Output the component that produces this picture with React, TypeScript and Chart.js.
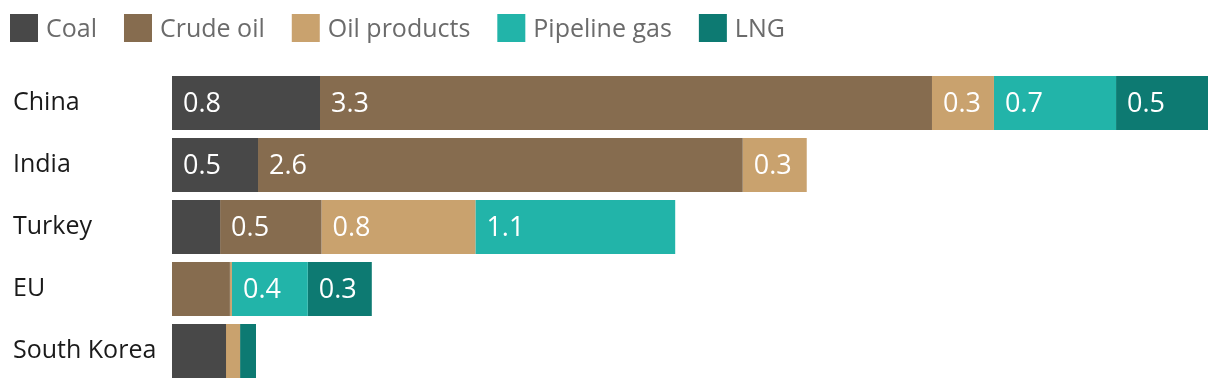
import React, { useEffect, useRef } from "react";
import { Chart, registerables } from "chart.js";

Chart.register(...registerables);

const FONT = "'Open Sans', 'Noto Sans', sans-serif";

const categories = ["China", "India", "Turkey", "EU", "South Korea"];
const seriesNames = ["Coal", "Crude oil", "Oil products", "Pipeline gas", "LNG"];
const seriesColors = ["#484848", "#866c4f", "#c9a26e", "#22b4a9", "#0d7a72"];

const coal = [0.8, 0.465, 0.26, 0, 0.292];
const crudeOil = [3.308, 2.62, 0.548, 0.313, 0];
const oilProducts = [0.335, 0.346, 0.832, 0.011, 0.076];
const pipelineGas = [0.66, 0, 1.08, 0.41, 0];
const lng = [0.5, 0, 0, 0.346, 0.086];

const seriesValues = [coal, crudeOil, oilProducts, pipelineGas, lng];
const X_MAX = 5.6;
const LABEL_MIN = 0.33;

const labelPlugin = {
  id: "segLabels",
  afterDatasetsDraw(chart: any) {
    const ctx = chart.ctx;
    ctx.save();
    ctx.font = `27px ${FONT}`;
    ctx.fillStyle = "#ffffff";
    ctx.textAlign = "left";
    ctx.textBaseline = "middle";
    chart.data.datasets.forEach((ds: any, di: number) => {
      const meta = chart.getDatasetMeta(di);
      meta.data.forEach((el: any, i: number) => {
        const v = ds.data[i];
        if (!(v >= LABEL_MIN)) return;
        const p = el.getProps(["x", "y", "base"], true);
        ctx.fillText(v.toFixed(1), Math.min(p.x, p.base) + 11, p.y + 1);
      });
    });
    ctx.restore();
  },
};

const legendPlugin = {
  id: "topLegend",
  afterDraw(chart: any) {
    const ctx = chart.ctx;
    ctx.save();
    ctx.font = `25px ${FONT}`;
    ctx.textAlign = "left";
    ctx.textBaseline = "middle";
    let x = 10;
    chart.data.datasets.forEach((ds: any) => {
      ctx.fillStyle = ds.backgroundColor;
      ctx.fillRect(x, 14, 28, 28);
      ctx.fillStyle = "#6b6b6b";
      ctx.fillText(ds.label, x + 36, 30);
      x += 36 + ctx.measureText(ds.label).width + 27;
    });
    ctx.restore();
  },
};

export default function App() {
  const ref = useRef<HTMLCanvasElement | null>(null);

  useEffect(() => {
    if (!ref.current) return;
    const chart = new Chart(ref.current, {
      type: "bar",
      data: {
        labels: categories,
        datasets: seriesNames.map((name, i) => ({
          label: name,
          data: seriesValues[i],
          backgroundColor: seriesColors[i],
          borderWidth: 0,
          categoryPercentage: 1,
          barPercentage: 54 / 62,
        })),
      },
      options: {
        indexAxis: "y",
        animation: false,
        responsive: true,
        maintainAspectRatio: false,
        layout: { padding: { left: 13, right: 12, top: 72, bottom: 8 } },
        plugins: {
          legend: { display: false },
          tooltip: { enabled: false },
        },
        scales: {
          x: {
            stacked: true,
            display: false,
            min: 0,
            max: X_MAX,
          },
          y: {
            stacked: true,
            grid: { display: false },
            border: { display: false },
            afterFit: (scale: any) => {
              scale.width = 159;
              scale.paddingTop = 0;
              scale.paddingBottom = 0;
            },
            ticks: {
              crossAlign: "far",
              padding: 0,
              color: "#1a1a1a",
              font: { family: FONT, size: 25 },
            },
          },
        },
      },
      plugins: [labelPlugin, legendPlugin],
    });
    return () => chart.destroy();
  }, []);

  return (
    <div style={{ position: "fixed", left: 0, top: 0, width: 1220, height: 390, background: "#fff" }}>
      <canvas ref={ref} />
    </div>
  );
}
